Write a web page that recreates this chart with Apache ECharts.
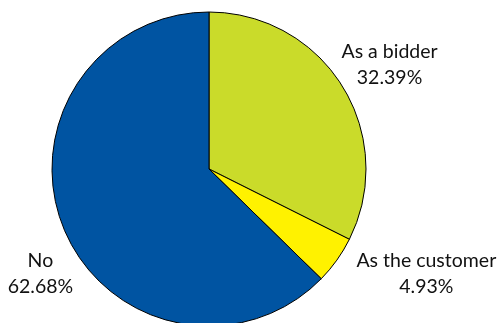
<!DOCTYPE html>
<html>
<head>
<meta charset="utf-8">
<script src="https://cdn.jsdelivr.net/npm/echarts@6/dist/echarts.min.js"></script>
<style>
  html, body { margin: 0; padding: 0; background: #ffffff; }
  #chart { width: 500px; height: 323px; }
</style>
</head>
<body>
<div id="chart"></div>
<script>
// Share of respondents, clockwise from twelve o'clock
const categories = ['As a bidder', 'As the customer', 'No'];
const shares = [32.39, 4.93, 62.68];
const sliceColors = ['#cadb2a', '#fff200', '#0054a2'];

// Per-slice label placement (radial length, horizontal length)
const labelLengths = [[41, -41], [24, -5], [113, -118]];

const chart = echarts.init(document.getElementById('chart'), null, { renderer: 'canvas' });

const data = categories.map((name, i) => ({
  name: name,
  value: shares[i],
  itemStyle: { color: sliceColors[i] },
  labelLine: { show: false, length: labelLengths[i][0], length2: labelLengths[i][1] }
}));

chart.setOption({
  animation: false,
  backgroundColor: '#ffffff',
  series: [{
    type: 'pie',
    center: [209, 169],
    radius: 157,
    startAngle: 90,
    clockwise: true,
    avoidLabelOverlap: false,
    data: data,
    itemStyle: { borderColor: '#000000', borderWidth: 1 },
    emphasis: { disabled: true },
    label: {
      show: true,
      position: 'outside',
      alignTo: 'none',
      formatter: p => '{t|' + p.name + '}\n{t|' + p.value.toFixed(2) + '%}',
      rich: {
        t: {
          fontFamily: 'Lato',
          fontSize: 19.5,
          lineHeight: 26,
          color: '#111111',
          align: 'center'
        }
      }
    },
    labelLine: { show: false }
  }]
});
</script>
</body>
</html>
